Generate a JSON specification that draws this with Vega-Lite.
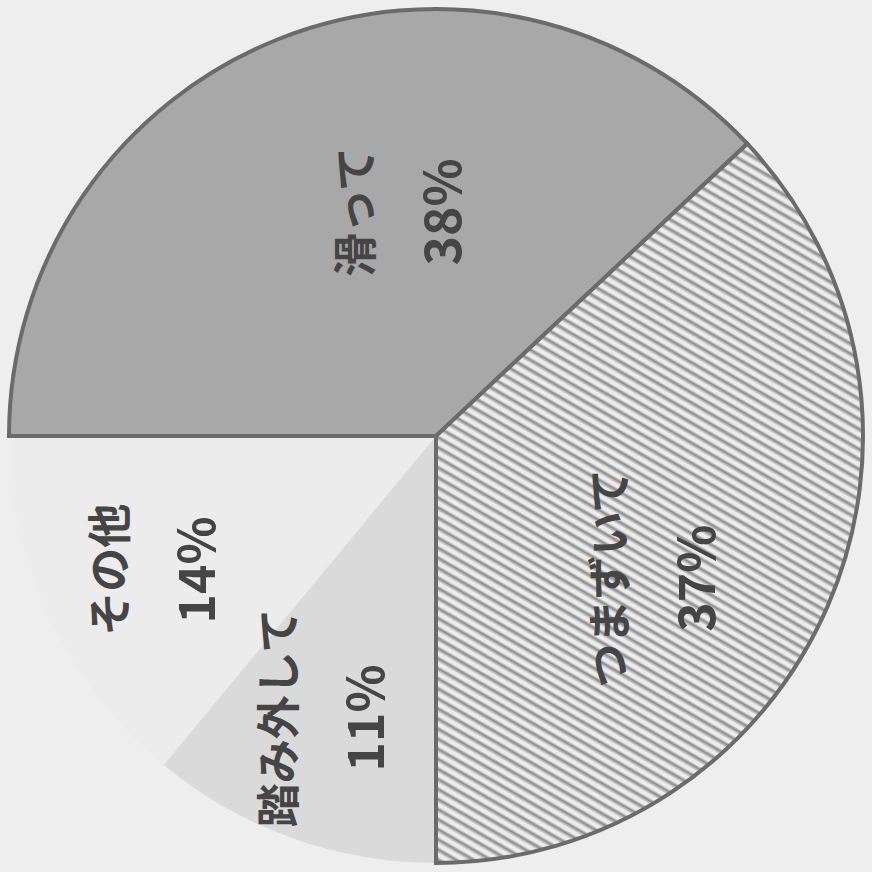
{
  "$schema": "https://vega.github.io/schema/vega-lite/v6.json",
  "autosize": {"type": "fit", "contains": "padding"},
  "width": 872,
  "height": 872,
  "padding": 0,
  "background": "#eeeeee",
  "view": {"stroke": null},
  "data": {
    "values": [
      {"k": "その他", "v": 0.14, "i": 4},
      {"k": "踏み外して", "v": 0.11, "i": 3},
      {"k": "滑って", "v": 0.38, "i": 1},
      {"k": "つまずいて", "v": 0.37, "i": 2}
    ]
  },
  "layer": [
    {
      "mark": {"type": "arc", "outerRadius": 427, "strokeWidth": 4},
      "encoding": {
        "theta": {"field": "v", "type": "quantitative", "stack": true, "scale": {"range": [-1.5708, 4.7124]}},
        "order": {"field": "i", "type": "quantitative"},
        "fill": {
          "condition": {
            "test": "datum.k === 'つまずいて'",
            "value": {
              "gradient": "linear", "x1": 1, "y1": 0, "x2": 0.5713, "y2": 1.2507,
              "stops": [
{"offset":0,"color":"#ececec"},{"offset":0.003,"color":"#ececec"},{"offset":0.006,"color":"#8a8a8a"},
{"offset":0.01,"color":"#ececec"},{"offset":0.013,"color":"#ececec"},{"offset":0.016,"color":"#8a8a8a"},
{"offset":0.02,"color":"#ececec"},{"offset":0.023,"color":"#ececec"},{"offset":0.026,"color":"#8a8a8a"},
{"offset":0.03,"color":"#ececec"},{"offset":0.033,"color":"#ececec"},{"offset":0.036,"color":"#8a8a8a"},
{"offset":0.04,"color":"#ececec"},{"offset":0.043,"color":"#ececec"},{"offset":0.046,"color":"#8a8a8a"},
{"offset":0.05,"color":"#ececec"},{"offset":0.053,"color":"#ececec"},{"offset":0.056,"color":"#8a8a8a"},
{"offset":0.06,"color":"#ececec"},{"offset":0.063,"color":"#ececec"},{"offset":0.066,"color":"#8a8a8a"},
{"offset":0.07,"color":"#ececec"},{"offset":0.073,"color":"#ececec"},{"offset":0.076,"color":"#8a8a8a"},
{"offset":0.08,"color":"#ececec"},{"offset":0.083,"color":"#ececec"},{"offset":0.086,"color":"#8a8a8a"},
{"offset":0.09,"color":"#ececec"},{"offset":0.093,"color":"#ececec"},{"offset":0.096,"color":"#8a8a8a"},
{"offset":0.1,"color":"#ececec"},{"offset":0.103,"color":"#ececec"},{"offset":0.106,"color":"#8a8a8a"},
{"offset":0.11,"color":"#ececec"},{"offset":0.113,"color":"#ececec"},{"offset":0.116,"color":"#8a8a8a"},
{"offset":0.12,"color":"#ececec"},{"offset":0.123,"color":"#ececec"},{"offset":0.126,"color":"#8a8a8a"},
{"offset":0.13,"color":"#ececec"},{"offset":0.133,"color":"#ececec"},{"offset":0.136,"color":"#8a8a8a"},
{"offset":0.14,"color":"#ececec"},{"offset":0.143,"color":"#ececec"},{"offset":0.146,"color":"#8a8a8a"},
{"offset":0.15,"color":"#ececec"},{"offset":0.153,"color":"#ececec"},{"offset":0.156,"color":"#8a8a8a"},
{"offset":0.16,"color":"#ececec"},{"offset":0.163,"color":"#ececec"},{"offset":0.166,"color":"#8a8a8a"},
{"offset":0.17,"color":"#ececec"},{"offset":0.173,"color":"#ececec"},{"offset":0.176,"color":"#8a8a8a"},
{"offset":0.18,"color":"#ececec"},{"offset":0.183,"color":"#ececec"},{"offset":0.186,"color":"#8a8a8a"},
{"offset":0.19,"color":"#ececec"},{"offset":0.193,"color":"#ececec"},{"offset":0.196,"color":"#8a8a8a"},
{"offset":0.2,"color":"#ececec"},{"offset":0.203,"color":"#ececec"},{"offset":0.206,"color":"#8a8a8a"},
{"offset":0.21,"color":"#ececec"},{"offset":0.213,"color":"#ececec"},{"offset":0.216,"color":"#8a8a8a"},
{"offset":0.22,"color":"#ececec"},{"offset":0.223,"color":"#ececec"},{"offset":0.226,"color":"#8a8a8a"},
{"offset":0.23,"color":"#ececec"},{"offset":0.233,"color":"#ececec"},{"offset":0.236,"color":"#8a8a8a"},
{"offset":0.24,"color":"#ececec"},{"offset":0.243,"color":"#ececec"},{"offset":0.246,"color":"#8a8a8a"},
{"offset":0.25,"color":"#ececec"},{"offset":0.253,"color":"#ececec"},{"offset":0.256,"color":"#8a8a8a"},
{"offset":0.26,"color":"#ececec"},{"offset":0.263,"color":"#ececec"},{"offset":0.266,"color":"#8a8a8a"},
{"offset":0.27,"color":"#ececec"},{"offset":0.273,"color":"#ececec"},{"offset":0.276,"color":"#8a8a8a"},
{"offset":0.28,"color":"#ececec"},{"offset":0.283,"color":"#ececec"},{"offset":0.286,"color":"#8a8a8a"},
{"offset":0.29,"color":"#ececec"},{"offset":0.293,"color":"#ececec"},{"offset":0.296,"color":"#8a8a8a"},
{"offset":0.3,"color":"#ececec"},{"offset":0.303,"color":"#ececec"},{"offset":0.306,"color":"#8a8a8a"},
{"offset":0.31,"color":"#ececec"},{"offset":0.313,"color":"#ececec"},{"offset":0.316,"color":"#8a8a8a"},
{"offset":0.32,"color":"#ececec"},{"offset":0.323,"color":"#ececec"},{"offset":0.326,"color":"#8a8a8a"},
{"offset":0.33,"color":"#ececec"},{"offset":0.333,"color":"#ececec"},{"offset":0.336,"color":"#8a8a8a"},
{"offset":0.34,"color":"#ececec"},{"offset":0.343,"color":"#ececec"},{"offset":0.346,"color":"#8a8a8a"},
{"offset":0.35,"color":"#ececec"},{"offset":0.353,"color":"#ececec"},{"offset":0.356,"color":"#8a8a8a"},
{"offset":0.36,"color":"#ececec"},{"offset":0.363,"color":"#ececec"},{"offset":0.366,"color":"#8a8a8a"},
{"offset":0.37,"color":"#ececec"},{"offset":0.373,"color":"#ececec"},{"offset":0.376,"color":"#8a8a8a"},
{"offset":0.38,"color":"#ececec"},{"offset":0.383,"color":"#ececec"},{"offset":0.386,"color":"#8a8a8a"},
{"offset":0.39,"color":"#ececec"},{"offset":0.393,"color":"#ececec"},{"offset":0.396,"color":"#8a8a8a"},
{"offset":0.4,"color":"#ececec"},{"offset":0.403,"color":"#ececec"},{"offset":0.406,"color":"#8a8a8a"},
{"offset":0.41,"color":"#ececec"},{"offset":0.413,"color":"#ececec"},{"offset":0.416,"color":"#8a8a8a"},
{"offset":0.42,"color":"#ececec"},{"offset":0.423,"color":"#ececec"},{"offset":0.426,"color":"#8a8a8a"},
{"offset":0.43,"color":"#ececec"},{"offset":0.433,"color":"#ececec"},{"offset":0.436,"color":"#8a8a8a"},
{"offset":0.44,"color":"#ececec"},{"offset":0.443,"color":"#ececec"},{"offset":0.446,"color":"#8a8a8a"},
{"offset":0.45,"color":"#ececec"},{"offset":0.453,"color":"#ececec"},{"offset":0.456,"color":"#8a8a8a"},
{"offset":0.46,"color":"#ececec"},{"offset":0.463,"color":"#ececec"},{"offset":0.466,"color":"#8a8a8a"},
{"offset":0.47,"color":"#ececec"},{"offset":0.473,"color":"#ececec"},{"offset":0.476,"color":"#8a8a8a"},
{"offset":0.48,"color":"#ececec"},{"offset":0.483,"color":"#ececec"},{"offset":0.486,"color":"#8a8a8a"},
{"offset":0.49,"color":"#ececec"},{"offset":0.493,"color":"#ececec"},{"offset":0.496,"color":"#8a8a8a"},
{"offset":0.5,"color":"#ececec"},{"offset":0.503,"color":"#ececec"},{"offset":0.506,"color":"#8a8a8a"},
{"offset":0.51,"color":"#ececec"},{"offset":0.513,"color":"#ececec"},{"offset":0.516,"color":"#8a8a8a"},
{"offset":0.52,"color":"#ececec"},{"offset":0.523,"color":"#ececec"},{"offset":0.526,"color":"#8a8a8a"},
{"offset":0.53,"color":"#ececec"},{"offset":0.533,"color":"#ececec"},{"offset":0.536,"color":"#8a8a8a"},
{"offset":0.54,"color":"#ececec"},{"offset":0.543,"color":"#ececec"},{"offset":0.546,"color":"#8a8a8a"},
{"offset":0.55,"color":"#ececec"},{"offset":0.553,"color":"#ececec"},{"offset":0.556,"color":"#8a8a8a"},
{"offset":0.56,"color":"#ececec"},{"offset":0.563,"color":"#ececec"},{"offset":0.566,"color":"#8a8a8a"},
{"offset":0.57,"color":"#ececec"},{"offset":0.573,"color":"#ececec"},{"offset":0.576,"color":"#8a8a8a"},
{"offset":0.58,"color":"#ececec"},{"offset":0.583,"color":"#ececec"},{"offset":0.586,"color":"#8a8a8a"},
{"offset":0.59,"color":"#ececec"},{"offset":0.593,"color":"#ececec"},{"offset":0.596,"color":"#8a8a8a"},
{"offset":0.6,"color":"#ececec"},{"offset":0.603,"color":"#ececec"},{"offset":0.606,"color":"#8a8a8a"},
{"offset":0.61,"color":"#ececec"},{"offset":0.613,"color":"#ececec"},{"offset":0.616,"color":"#8a8a8a"},
{"offset":0.62,"color":"#ececec"},{"offset":0.623,"color":"#ececec"},{"offset":0.626,"color":"#8a8a8a"},
{"offset":0.63,"color":"#ececec"},{"offset":0.633,"color":"#ececec"},{"offset":0.636,"color":"#8a8a8a"},
{"offset":0.64,"color":"#ececec"},{"offset":0.643,"color":"#ececec"},{"offset":0.646,"color":"#8a8a8a"},
{"offset":0.65,"color":"#ececec"},{"offset":0.653,"color":"#ececec"},{"offset":0.656,"color":"#8a8a8a"},
{"offset":0.66,"color":"#ececec"},{"offset":0.663,"color":"#ececec"},{"offset":0.666,"color":"#8a8a8a"},
{"offset":0.67,"color":"#ececec"},{"offset":0.673,"color":"#ececec"},{"offset":0.676,"color":"#8a8a8a"},
{"offset":0.68,"color":"#ececec"},{"offset":0.683,"color":"#ececec"},{"offset":0.686,"color":"#8a8a8a"},
{"offset":0.69,"color":"#ececec"},{"offset":0.693,"color":"#ececec"},{"offset":0.696,"color":"#8a8a8a"},
{"offset":0.7,"color":"#ececec"},{"offset":0.703,"color":"#ececec"},{"offset":0.706,"color":"#8a8a8a"},
{"offset":0.71,"color":"#ececec"},{"offset":0.713,"color":"#ececec"},{"offset":0.716,"color":"#8a8a8a"},
{"offset":0.72,"color":"#ececec"},{"offset":0.723,"color":"#ececec"},{"offset":0.726,"color":"#8a8a8a"},
{"offset":0.73,"color":"#ececec"},{"offset":0.733,"color":"#ececec"},{"offset":0.736,"color":"#8a8a8a"},
{"offset":0.74,"color":"#ececec"},{"offset":0.743,"color":"#ececec"},{"offset":0.746,"color":"#8a8a8a"},
{"offset":0.75,"color":"#ececec"},{"offset":0.753,"color":"#ececec"},{"offset":0.756,"color":"#8a8a8a"},
{"offset":0.76,"color":"#ececec"},{"offset":0.763,"color":"#ececec"},{"offset":0.766,"color":"#8a8a8a"},
{"offset":0.77,"color":"#ececec"},{"offset":0.773,"color":"#ececec"},{"offset":0.776,"color":"#8a8a8a"},
{"offset":0.78,"color":"#ececec"},{"offset":0.783,"color":"#ececec"},{"offset":0.786,"color":"#8a8a8a"},
{"offset":0.79,"color":"#ececec"},{"offset":0.793,"color":"#ececec"},{"offset":0.796,"color":"#8a8a8a"},
{"offset":0.8,"color":"#ececec"},{"offset":0.803,"color":"#ececec"},{"offset":0.806,"color":"#8a8a8a"},
{"offset":0.81,"color":"#ececec"},{"offset":0.813,"color":"#ececec"},{"offset":0.816,"color":"#8a8a8a"},
{"offset":0.82,"color":"#ececec"},{"offset":0.823,"color":"#ececec"},{"offset":0.826,"color":"#8a8a8a"},
{"offset":0.83,"color":"#ececec"},{"offset":0.833,"color":"#ececec"},{"offset":0.836,"color":"#8a8a8a"},
{"offset":0.84,"color":"#ececec"},{"offset":0.843,"color":"#ececec"},{"offset":0.846,"color":"#8a8a8a"},
{"offset":0.85,"color":"#ececec"},{"offset":0.853,"color":"#ececec"},{"offset":0.856,"color":"#8a8a8a"},
{"offset":0.86,"color":"#ececec"},{"offset":0.863,"color":"#ececec"},{"offset":0.866,"color":"#8a8a8a"},
{"offset":0.87,"color":"#ececec"},{"offset":0.873,"color":"#ececec"},{"offset":0.876,"color":"#8a8a8a"},
{"offset":0.88,"color":"#ececec"},{"offset":0.883,"color":"#ececec"},{"offset":0.886,"color":"#8a8a8a"},
{"offset":0.89,"color":"#ececec"},{"offset":0.893,"color":"#ececec"},{"offset":0.896,"color":"#8a8a8a"},
{"offset":0.9,"color":"#ececec"},{"offset":0.903,"color":"#ececec"},{"offset":0.906,"color":"#8a8a8a"},
{"offset":0.91,"color":"#ececec"},{"offset":0.913,"color":"#ececec"},{"offset":0.916,"color":"#8a8a8a"},
{"offset":0.92,"color":"#ececec"},{"offset":0.923,"color":"#ececec"},{"offset":0.926,"color":"#8a8a8a"},
{"offset":0.93,"color":"#ececec"},{"offset":0.933,"color":"#ececec"},{"offset":0.936,"color":"#8a8a8a"},
{"offset":0.94,"color":"#ececec"},{"offset":0.943,"color":"#ececec"},{"offset":0.946,"color":"#8a8a8a"},
{"offset":0.95,"color":"#ececec"},{"offset":0.953,"color":"#ececec"},{"offset":0.956,"color":"#8a8a8a"},
{"offset":0.96,"color":"#ececec"},{"offset":0.963,"color":"#ececec"},{"offset":0.966,"color":"#8a8a8a"},
{"offset":0.97,"color":"#ececec"},{"offset":0.973,"color":"#ececec"},{"offset":0.976,"color":"#8a8a8a"},
{"offset":0.98,"color":"#ececec"},{"offset":0.983,"color":"#ececec"},{"offset":0.986,"color":"#8a8a8a"},
{"offset":0.99,"color":"#ececec"},{"offset":0.993,"color":"#ececec"},{"offset":0.996,"color":"#8a8a8a"},
{"offset":1,"color":"#ececec"}
              ]
            }
          },
          "field": "k",
          "type": "nominal",
          "scale": {"domain": ["滑って", "つまずいて", "踏み外して", "その他"], "range": ["#a8a8a8", "#e4e4e4", "#dadada", "#ececec"]},
          "legend": null
        },
        "stroke": {
          "condition": {"test": "datum.k === '滑って' || datum.k === 'つまずいて'", "value": "#6b6b6b"},
          "value": "transparent"
        }
      }
    },
    {
      "mark": {"type": "text", "radius": 226.6, "thetaOffset": 0.2264, "angle": 270, "dy": -43.5, "font": "Noto Sans CJK JP", "fontWeight": "bold", "fontSize": 44, "color": "#454545", "align": "center", "baseline": "middle"},
      "encoding": {
        "theta": {"field": "v", "type": "quantitative", "stack": true},
        "order": {"field": "i", "type": "quantitative"},
        "text": {"condition": {"test": "datum.k === '滑って'", "field": "k", "type": "nominal"}, "value": ""}
      }
    },
    {
      "mark": {"type": "text", "radius": 226.6, "thetaOffset": 0.2264, "angle": 270, "dy": 43.5, "font": "Noto Sans CJK JP", "fontWeight": "bold", "fontSize": 50, "color": "#454545", "align": "center", "baseline": "middle"},
      "encoding": {
        "theta": {"field": "v", "type": "quantitative", "stack": true},
        "order": {"field": "i", "type": "quantitative"},
        "text": {"condition": {"test": "datum.k === '滑って'", "field": "v", "type": "quantitative", "format": ".0%"}, "value": ""}
      }
    },
    {
      "mark": {"type": "text", "radius": 262, "thetaOffset": 0.1648, "angle": 270, "dy": -43.5, "font": "Noto Sans CJK JP", "fontWeight": "bold", "fontSize": 44, "color": "#454545", "align": "center", "baseline": "middle"},
      "encoding": {
        "theta": {"field": "v", "type": "quantitative", "stack": true},
        "order": {"field": "i", "type": "quantitative"},
        "text": {"condition": {"test": "datum.k === 'つまずいて'", "field": "k", "type": "nominal"}, "value": ""}
      }
    },
    {
      "mark": {"type": "text", "radius": 262, "thetaOffset": 0.1648, "angle": 270, "dy": 43.5, "font": "Noto Sans CJK JP", "fontWeight": "bold", "fontSize": 50, "color": "#454545", "align": "center", "baseline": "middle"},
      "encoding": {
        "theta": {"field": "v", "type": "quantitative", "stack": true},
        "order": {"field": "i", "type": "quantitative"},
        "text": {"condition": {"test": "datum.k === 'つまずいて'", "field": "v", "type": "quantitative", "format": ".0%"}, "value": ""}
      }
    },
    {
      "mark": {"type": "text", "radius": 303, "thetaOffset": 0.0293, "angle": 270, "dy": -43.5, "font": "Noto Sans CJK JP", "fontWeight": "bold", "fontSize": 44, "color": "#454545", "align": "center", "baseline": "middle"},
      "encoding": {
        "theta": {"field": "v", "type": "quantitative", "stack": true},
        "order": {"field": "i", "type": "quantitative"},
        "text": {"condition": {"test": "datum.k === '踏み外して'", "field": "k", "type": "nominal"}, "value": ""}
      }
    },
    {
      "mark": {"type": "text", "radius": 303, "thetaOffset": 0.0293, "angle": 270, "dy": 43.5, "font": "Noto Sans CJK JP", "fontWeight": "bold", "fontSize": 50, "color": "#454545", "align": "center", "baseline": "middle"},
      "encoding": {
        "theta": {"field": "v", "type": "quantitative", "stack": true},
        "order": {"field": "i", "type": "quantitative"},
        "text": {"condition": {"test": "datum.k === '踏み外して'", "field": "v", "type": "quantitative", "format": ".0%"}, "value": ""}
      }
    },
    {
      "mark": {"type": "text", "radius": 310, "thetaOffset": -0.0066, "angle": 270, "dy": -43.5, "font": "Noto Sans CJK JP", "fontWeight": "bold", "fontSize": 44, "color": "#454545", "align": "center", "baseline": "middle"},
      "encoding": {
        "theta": {"field": "v", "type": "quantitative", "stack": true},
        "order": {"field": "i", "type": "quantitative"},
        "text": {"condition": {"test": "datum.k === 'その他'", "field": "k", "type": "nominal"}, "value": ""}
      }
    },
    {
      "mark": {"type": "text", "radius": 310, "thetaOffset": -0.0066, "angle": 270, "dy": 43.5, "font": "Noto Sans CJK JP", "fontWeight": "bold", "fontSize": 50, "color": "#454545", "align": "center", "baseline": "middle"},
      "encoding": {
        "theta": {"field": "v", "type": "quantitative", "stack": true},
        "order": {"field": "i", "type": "quantitative"},
        "text": {"condition": {"test": "datum.k === 'その他'", "field": "v", "type": "quantitative", "format": ".0%"}, "value": ""}
      }
    }
  ]
}
